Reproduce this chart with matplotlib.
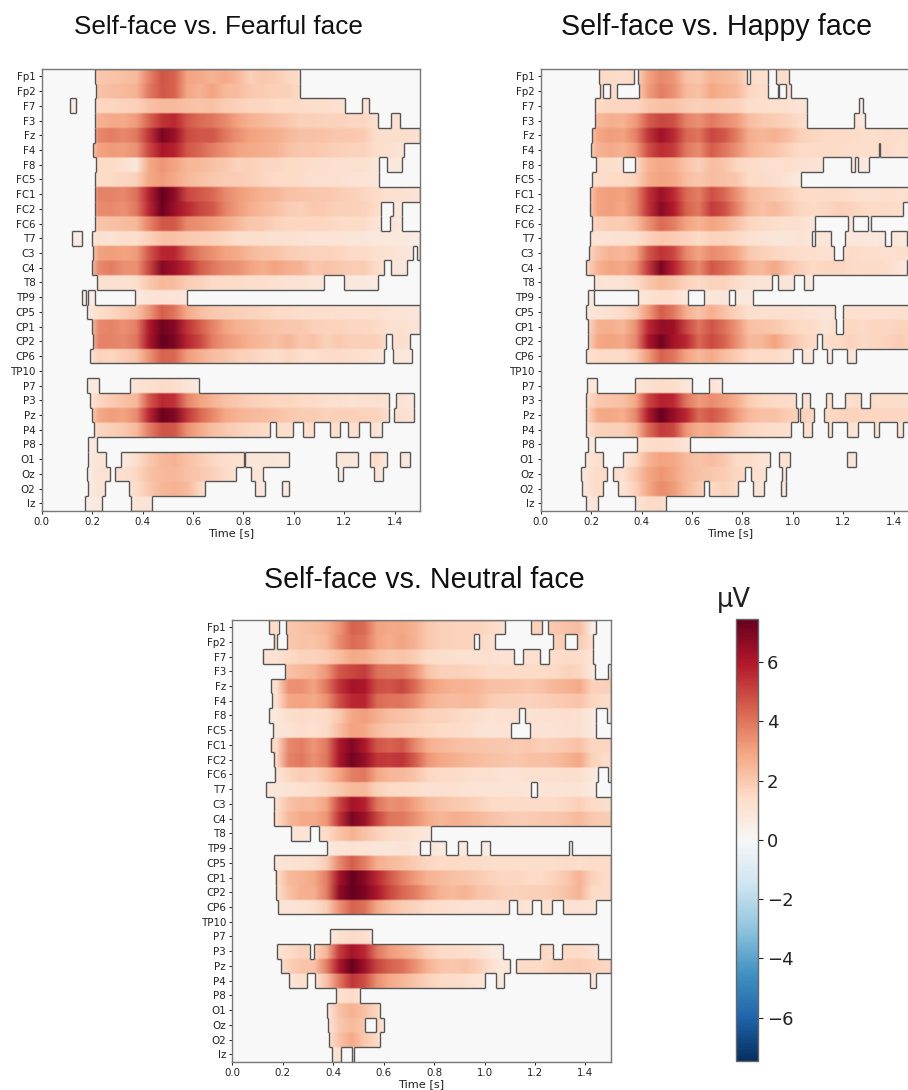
import numpy as np
import matplotlib
matplotlib.use("Agg")
import matplotlib.pyplot as plt
from matplotlib.collections import LineCollection

# Figure size in pixels (dpi 100)
W, H = 908, 1090

channels = ["Fp1", "Fp2", "F7", "F3", "Fz", "F4", "F8", "FC5", "FC1", "FC2", "FC6", "T7", "C3", "C4", "T8",
            "TP9", "CP5", "CP1", "CP2", "CP6", "TP10", "P7", "P3", "Pz", "P4", "P8", "O1", "Oz", "O2", "Iz"]
time_ticks = [0.0, 0.2, 0.4, 0.6, 0.8, 1.0, 1.2, 1.4]
cbar_ticks = [-6, -4, -2, 0, 2, 4, 6]
vlim = 7.45

# Amplitudes in uV, one column every 0.05 s, from 0.15 s to 1.5 s
fearful_values = [
    [.8, 2.0, 2.1, 2.2, 2.4, 3.7, 4.7, 4.4, 3.0, 2.8, 2.6, 2.8, 2.4, 1.8, 2.0, 1.9, 1.6, 1.3, 1.0, 1.0, .8, .8, .7, .7, .6, .5, .4],
    [.8, 2.1, 2.3, 2.4, 2.6, 3.9, 4.6, 4.4, 2.9, 2.6, 3.0, 2.4, 2.3, 2.0, 1.9, 1.8, 1.8, 1.4, 1.0, 1.0, .8, .8, .7, .7, .6, .5, .4],
    [.6, 1.6, 1.6, 1.7, 1.8, 2.2, 2.4, 2.4, 2.2, 2.1, 2.2, 1.9, 1.8, 1.6, 1.6, 1.5, 1.5, 1.4, 1.3, 1.3, 1.2, 1.2, 1.0, .8, .7, .6, .5],
    [.8, 2.6, 2.8, 2.8, 3.2, 4.4, 5.4, 5.6, 4.6, 4.2, 4.0, 3.6, 3.0, 2.6, 2.4, 2.2, 2.0, 1.8, 1.8, 1.7, 1.7, 1.6, 1.6, 1.2, 1.0, 1.2, .8],
    [.9, 3.6, 3.8, 3.6, 3.9, 5.4, 7.0, 6.4, 4.9, 4.6, 4.6, 3.9, 3.4, 3.0, 2.8, 2.7, 2.4, 2.2, 2.2, 2.1, 2.0, 2.0, 1.9, 1.3, 1.3, 1.3, 1.2],
    [.8, 3.0, 3.2, 3.1, 3.4, 5.0, 6.0, 5.8, 4.6, 4.3, 3.8, 3.4, 3.0, 2.8, 2.7, 2.6, 2.2, 2.0, 2.0, 1.9, 1.8, 1.7, 1.7, 1.3, 1.2, 1.1, .6],
    [.6, 1.5, 1.5, 1.2, .9, 2.9, 3.3, 3.0, 2.5, 2.4, 2.2, 2.0, 1.7, 1.8, 1.6, 1.6, 1.5, 1.4, 1.3, 1.3, 1.2, 1.2, 1.2, .9, .8, .8, .5],
    [.6, 1.4, 1.5, 1.6, 1.8, 2.9, 3.2, 2.9, 2.4, 2.2, 2.0, 1.9, 1.9, 1.8, 1.6, 1.5, 1.5, 1.4, 1.2, 1.2, 1.2, 1.1, 1.1, .9, .7, .6, .5],
    [.9, 3.7, 3.7, 3.6, 4.1, 5.8, 7.4, 6.6, 5.0, 4.6, 4.3, 3.6, 3.2, 2.9, 2.6, 2.5, 2.2, 2.1, 2.0, 2.0, 1.9, 1.8, 1.6, 1.4, 1.2, 1.2, 1.1],
    [.9, 3.5, 3.6, 3.4, 3.9, 5.7, 7.3, 6.4, 5.6, 5.0, 4.6, 3.7, 3.2, 2.7, 2.4, 2.2, 1.9, 1.8, 2.0, 1.9, 1.8, 1.8, 1.7, 1.4, 1.0, .8, .7],
    [.7, 2.1, 2.2, 2.3, 2.5, 3.7, 4.6, 4.6, 3.6, 3.4, 3.2, 2.8, 2.4, 2.0, 2.0, 1.7, 1.6, 1.6, 1.6, 1.6, 1.5, 1.5, 1.4, 1.0, 1.0, .8, .6],
    [.6, 1.2, 1.1, 1.3, 1.3, 1.8, 2.2, 2.2, 2.0, 1.9, 1.8, 1.6, 1.3, 1.3, 1.3, 1.2, 1.2, 1.1, 1.0, 1.0, 1.0, .9, .9, .8, .8, .7, .6],
    [.7, 3.0, 3.1, 3.0, 3.2, 4.6, 5.7, 5.7, 4.5, 3.8, 3.4, 3.0, 2.8, 2.4, 2.2, 2.1, 1.9, 1.8, 1.7, 1.7, 1.6, 1.5, 1.5, 1.2, 1.1, 1.0, .8],
    [.7, 3.6, 3.8, 3.4, 3.4, 5.0, 6.8, 6.3, 5.6, 4.5, 4.0, 3.6, 3.4, 3.0, 2.7, 3.0, 2.7, 2.6, 2.0, 2.2, 2.0, 1.9, 1.9, 1.4, .9, .9, .8],
    [.6, 1.2, 1.2, 1.2, 1.3, 2.0, 2.4, 2.3, 1.9, 1.7, 1.5, 1.5, 1.4, 1.3, 1.3, 1.2, 1.1, 1.1, .9, .9, .8, .8, .8, .6, .5, .5, .4],
    [.6, .5, .5, .5, .8, 1.0, 1.1, 1.0, .9, .6, .5, .5, .5, .5, .4, .4, .4, .4, .4, .4, .4, .4, .4, .4, .4, .4, .4],
    [.6, 1.3, 1.6, 1.9, 2.2, 3.3, 4.5, 4.0, 2.8, 2.3, 2.0, 1.9, 1.8, 1.7, 1.6, 1.5, 1.4, 1.3, 1.3, 1.3, 1.2, 1.2, 1.2, 1.2, 1.0, 1.0, .9],
    [.8, 3.6, 3.7, 3.4, 3.8, 6.0, 7.2, 6.8, 5.4, 4.5, 3.7, 3.0, 2.6, 2.5, 2.2, 2.1, 2.0, 2.0, 1.8, 1.7, 1.7, 1.6, 1.6, 1.5, 1.2, 1.2, 1.0],
    [.8, 3.7, 3.7, 3.6, 4.0, 6.1, 7.4, 7.0, 5.7, 5.0, 3.8, 3.3, 3.0, 2.6, 2.4, 2.2, 2.5, 2.0, 2.2, 1.7, 2.0, 1.8, 1.8, 1.8, 1.2, 1.3, 1.0],
    [.6, 1.7, 1.6, 1.9, 2.2, 3.4, 4.4, 4.3, 3.2, 2.7, 2.3, 2.1, 1.8, 1.7, 1.5, 1.3, 1.6, 1.3, 1.2, 1.4, 1.4, 1.3, 1.2, 1.1, .8, .9, .7],
    [.3, .3, .3, .3, .3, .3, .3, .3, .3, .3, .3, .3, .3, .3, .3, .3, .3, .3, .3, .3, .3, .3, .3, .3, .3, .3, .3],
    [.6, .8, .7, .7, 1.1, 1.2, 1.4, 1.3, 1.0, .6, .5, .5, .4, .4, .4, .4, .4, .4, .4, .4, .4, .4, .4, .4, .4, .4, .4],
    [.6, 1.6, 1.9, 2.2, 2.5, 4.6, 5.6, 5.4, 3.7, 3.0, 2.6, 2.2, 2.0, 1.8, 1.7, 1.6, 1.6, 1.5, 1.4, 1.2, 1.2, 1.1, 1.2, 1.2, 1.1, 1.1, .8],
    [.7, 2.8, 3.1, 3.0, 3.5, 5.7, 7.3, 6.9, 5.3, 4.3, 3.6, 2.9, 2.6, 2.4, 2.3, 2.2, 2.0, 1.9, 1.9, 1.7, 1.8, 1.8, 1.7, 1.7, 1.3, 1.2, 1.0],
    [.6, 1.6, 1.8, 2.0, 2.4, 3.8, 4.7, 4.6, 3.4, 2.8, 2.3, 2.0, 1.8, 1.6, 1.5, 1.3, 1.3, 1.2, 1.3, 1.2, 1.3, 1.2, 1.3, 1.1, .8, .6, .5],
    [.5, .9, .6, .6, .6, .6, .6, .6, .5, .5, .5, .5, .4, .4, .4, .4, .4, .4, .4, .4, .4, .4, .4, .4, .4, .4, .4],
    [.5, 1.0, 1.0, .8, 1.3, 2.0, 2.4, 2.6, 2.2, 1.9, 1.6, 1.3, 1.2, .9, .9, .9, .8, .6, .6, .6, .9, .9, .8, 1.5, .6, .9, .5],
    [.5, 1.1, 1.2, 1.2, 1.6, 2.2, 2.4, 2.5, 2.2, 2.0, 1.8, 1.4, 1.0, 1.0, .9, .5, .4, .4, .4, .4, .6, .4, .4, 1.0, .4, .4, .4],
    [.5, 1.0, 1.0, .7, 1.4, 2.0, 2.5, 2.6, 2.4, 1.6, 1.0, .8, .7, .8, .8, .6, .7, .4, .4, .4, .4, .4, .4, .4, .4, .4, .4],
    [.5, .8, .7, .5, 1.0, 1.1, .8, .5, .4, .4, .4, .4, .4, .4, .4, .4, .4, .4, .4, .4, .4, .4, .4, .4, .4, .4, .4],
]
happy_values = [
    [.8, 1.5, 1.5, 1.3, 1.6, 3.0, 3.6, 3.3, 2.2, 2.0, 2.6, 2.4, 2.2, 1.4, 1.2, 1.4, 1.3, .9, .6, .5, .5, .5, .5, .5, .5, .5, .5],
    [.8, 1.5, 1.5, 1.3, 1.7, 3.1, 3.8, 3.4, 2.4, 2.2, 2.9, 2.6, 2.4, 1.6, 1.4, 1.4, 1.3, .9, .6, .5, .5, .5, .5, .5, .5, .5, .5],
    [1.0, 1.5, 1.6, 1.6, 1.6, 2.0, 2.2, 2.2, 1.9, 1.8, 1.9, 1.8, 1.7, 1.3, 1.3, 1.2, 1.2, 1.1, 1.0, .8, .7, .7, .6, .5, .5, .5, .5],
    [1.2, 2.4, 2.7, 2.6, 3.2, 4.5, 5.0, 4.8, 3.7, 3.4, 3.9, 3.5, 3.2, 2.3, 2.0, 1.9, 1.7, 1.4, 1.0, .8, .8, 1.1, .8, .6, .5, .5, .5],
    [1.4, 2.9, 3.1, 3.0, 3.7, 5.3, 6.3, 5.6, 4.3, 4.0, 5.0, 4.6, 3.8, 2.7, 2.5, 2.6, 2.3, 1.8, 1.6, 1.5, 1.5, 1.4, 1.3, 1.3, 1.4, 1.3, 1.3],
    [1.4, 2.6, 2.8, 2.6, 3.2, 4.8, 5.5, 5.2, 3.9, 3.5, 4.5, 4.0, 3.4, 2.6, 2.3, 2.1, 1.8, 1.5, 1.5, 1.4, 1.5, 1.3, 1.3, 1.3, 1.4, 1.2, 1.2],
    [1.0, 1.3, 1.3, 1.1, 1.5, 2.6, 2.9, 2.7, 2.1, 1.8, 2.3, 2.1, 1.6, 1.4, 1.3, 1.2, 1.3, 1.2, 1.1, 1.0, .9, .9, .8, .6, .5, .5, .5],
    [1.0, 1.3, 1.5, 1.5, 1.7, 2.7, 3.0, 2.9, 2.3, 2.0, 2.3, 2.2, 2.0, 1.5, 1.4, 1.3, 1.0, .8, .6, .5, .5, .5, .5, .5, .5, .5, .5],
    [1.4, 3.0, 3.1, 3.0, 3.6, 5.4, 6.4, 5.6, 4.2, 3.8, 4.8, 4.3, 3.4, 2.4, 2.2, 2.0, 1.8, 1.5, 1.5, 1.4, 1.4, 1.3, 1.2, 1.2, 1.3, 1.2, 1.2],
    [1.4, 3.0, 3.1, 2.9, 3.6, 5.4, 6.7, 5.9, 4.4, 3.9, 5.2, 4.8, 3.7, 2.6, 2.2, 2.4, 2.0, 1.6, 1.5, 1.6, 1.8, 1.7, 1.5, 1.5, 1.5, 1.3, 1.2],
    [1.0, 1.8, 1.9, 1.9, 2.3, 3.4, 4.2, 3.8, 3.0, 2.6, 3.0, 2.7, 2.2, 1.6, 1.5, 1.3, 1.2, 1.2, .9, 1.0, .9, .9, .9, .8, .6, .5, .5],
    [1.0, 1.1, 1.1, 1.2, 1.2, 1.7, 2.0, 1.9, 1.7, 1.5, 1.7, 1.7, 1.5, 1.2, 1.1, .9, .9, 1.1, .9, .9, .9, .8, .9, .8, .9, .8, .8],
    [1.2, 2.2, 2.6, 2.4, 2.9, 4.6, 5.4, 5.0, 3.6, 3.0, 3.5, 3.3, 2.9, 2.0, 1.8, 1.6, 1.5, 1.3, 1.3, 1.2, 1.2, 1.4, 1.3, 1.3, 1.2, 1.3, 1.2],
    [1.4, 2.6, 3.0, 2.8, 3.4, 5.2, 7.0, 5.8, 4.4, 3.6, 4.6, 4.2, 3.6, 2.6, 2.4, 2.9, 2.2, 1.8, 1.5, 1.6, 1.6, 1.5, 1.4, 1.5, 1.3, .9, .8],
    [.9, 1.1, 1.0, 1.1, 1.4, 2.0, 2.4, 2.2, 1.7, 1.5, 1.7, 1.7, 1.4, 1.1, 1.0, 1.0, .9, .9, .6, .5, .5, .5, .5, .5, .5, .5, .5],
    [.8, .6, .5, .5, .8, 1.1, 1.3, 1.2, .8, .7, .9, .9, .7, .9, .5, .4, .4, .4, .4, .4, .4, .4, .4, .4, .4, .4, .4],
    [.9, 1.0, 1.2, 1.4, 1.9, 3.2, 4.5, 3.9, 2.7, 2.1, 2.7, 2.2, 1.7, 1.2, 1.2, 1.2, 1.2, 1.2, 1.0, .9, 1.1, 1.2, 1.2, 1.2, 1.2, 1.2, 1.2],
    [1.2, 2.6, 2.7, 2.5, 3.4, 5.6, 6.5, 6.4, 5.0, 4.0, 4.7, 4.1, 3.3, 2.2, 2.1, 2.0, 1.7, 1.5, 1.4, 1.0, 1.3, 1.6, 1.5, 1.6, 1.6, 1.7, 1.6],
    [1.2, 2.9, 3.0, 2.8, 3.6, 6.0, 7.2, 6.2, 5.6, 4.3, 4.9, 4.4, 3.4, 2.4, 2.5, 3.0, 2.3, 1.8, 1.5, 1.3, 1.5, 1.7, 1.5, 1.6, 1.7, 1.9, 1.6],
    [1.0, 1.5, 1.5, 1.4, 1.9, 3.2, 4.4, 4.0, 3.0, 2.5, 2.8, 2.3, 1.9, 1.5, 1.5, 1.4, 1.2, 1.0, .9, .9, .6, 1.0, .5, .5, .5, .5, .5],
    [.3, .3, .3, .3, .3, .3, .3, .3, .3, .3, .3, .3, .3, .3, .3, .3, .3, .3, .3, .3, .3, .3, .3, .3, .3, .3, .3],
    [.8, .9, .5, .5, 1.0, 1.2, 1.4, 1.3, .9, .6, 1.0, .8, .4, .4, .4, .4, .4, .4, .4, .4, .4, .4, .4, .4, .4, .4, .4],
    [1.2, 2.0, 2.1, 2.2, 2.9, 5.0, 5.8, 5.6, 4.0, 3.2, 3.5, 3.2, 2.7, 1.9, 1.6, 1.5, 1.4, 1.2, 1.1, 1.2, 1.0, 1.3, 1.4, 1.3, 1.3, 1.3, 1.3],
    [1.2, 2.8, 2.9, 2.7, 3.6, 5.9, 7.4, 6.5, 5.6, 4.2, 4.6, 4.1, 3.2, 2.4, 2.2, 2.2, 1.9, 1.7, 1.6, 1.5, 1.6, 1.7, 1.6, 1.6, 1.6, 1.6, 1.5],
    [1.0, 1.7, 1.8, 1.8, 2.4, 4.2, 5.2, 5.0, 3.3, 2.7, 2.9, 2.5, 1.9, 1.6, 1.4, 1.3, 1.3, 1.2, 1.2, 1.3, .8, 1.2, .8, 1.1, .8, 1.0, .8],
    [.8, .8, .5, .5, 1.1, 1.3, 1.5, 1.3, 1.0, .5, .4, .4, .4, .4, .4, .4, .4, .4, .4, .4, .4, .4, .4, .4, .4, .4, .4],
    [.9, 1.3, 1.2, .7, 1.5, 2.6, 3.0, 2.9, 2.4, 2.1, 2.3, 2.0, 1.5, 1.4, 1.1, 1.0, 1.2, .4, .4, .4, .4, 1.0, .4, .4, .4, .4, .4],
    [.9, 1.5, 1.4, 1.2, 2.0, 2.9, 3.3, 3.0, 2.4, 2.2, 2.0, 1.9, 1.6, 1.3, 1.2, .9, .8, .4, .4, .4, .4, .4, .4, .4, .4, .4, .4],
    [.9, 1.5, 1.4, 1.0, 1.8, 2.9, 3.5, 3.2, 2.4, 1.9, 1.5, 1.7, 1.4, 1.2, 1.0, .8, .8, .4, .4, .4, .4, .4, .4, .4, .4, .4, .4],
    [.7, 1.1, .7, .5, 1.0, 1.4, 1.4, .9, .5, .4, .4, .4, .4, .4, .4, .4, .4, .4, .4, .4, .4, .4, .4, .4, .4, .4, .4],
]
neutral_values = [
    [1.4, 2.0, 2.2, 2.3, 2.6, 3.3, 4.4, 4.2, 3.0, 2.8, 2.9, 2.6, 2.0, 1.8, 1.7, 1.7, 1.7, 1.5, 1.2, 1.5, 1.6, 1.8, 2.0, 2.2, 2.3, .6, .5],
    [1.2, 2.0, 2.2, 2.1, 2.5, 3.5, 4.2, 4.0, 3.0, 2.7, 3.0, 2.6, 2.0, 1.8, 1.7, 1.7, 1.6, 1.2, 1.2, 1.2, 1.3, 1.4, 1.8, 1.9, 1.9, 1.3, .5],
    [1.1, 1.5, 1.7, 1.7, 1.9, 2.3, 2.8, 2.7, 2.3, 2.0, 2.1, 1.9, 1.4, 1.3, 1.3, 1.2, 1.2, 1.2, 1.1, 1.1, 1.2, 1.2, 1.3, 1.4, 1.4, 1.0, .5],
    [.8, 2.2, 2.4, 2.6, 3.3, 4.6, 5.0, 5.2, 4.1, 3.9, 3.9, 3.3, 2.1, 1.8, 1.8, 1.7, 1.6, 1.4, 1.4, 1.4, 1.5, 1.5, 1.5, 1.7, 1.6, .8, .6],
    [1.2, 3.4, 3.4, 3.0, 4.0, 5.4, 6.2, 6.0, 4.8, 4.7, 5.0, 4.2, 3.2, 2.8, 2.6, 2.6, 2.5, 2.2, 2.2, 2.1, 2.0, 2.2, 2.5, 2.6, 2.8, 1.7, 1.8],
    [1.2, 2.9, 3.0, 2.8, 3.4, 4.8, 5.6, 5.7, 4.2, 4.0, 4.0, 3.5, 2.7, 2.4, 2.3, 2.4, 2.3, 1.9, 1.8, 1.8, 1.7, 1.8, 1.9, 2.0, 2.1, 1.6, 1.4],
    [.8, 1.3, 1.4, 1.3, 1.4, 2.0, 2.9, 3.1, 2.7, 2.3, 2.2, 2.0, 1.7, 1.7, 1.6, 1.4, 1.3, 1.1, 1.2, 1.2, 1.1, 1.2, 1.2, 1.3, 1.2, .7, .5],
    [.9, 1.1, 1.3, 1.2, 1.5, 2.3, 3.0, 2.9, 2.3, 2.0, 1.9, 1.8, 1.6, 1.5, 1.4, 1.3, 1.1, 1.0, 1.0, 1.0, 1.1, 1.1, 1.1, 1.2, 1.2, .8, .5],
    [1.4, 3.6, 3.8, 3.3, 3.9, 6.0, 6.9, 6.0, 4.6, 4.4, 4.6, 3.6, 2.7, 2.5, 2.3, 2.2, 2.1, 2.0, 2.0, 1.9, 2.0, 1.8, 1.9, 2.0, 2.2, 1.6, 1.6],
    [1.4, 3.7, 3.9, 3.4, 4.0, 6.1, 7.2, 6.5, 5.3, 5.2, 5.4, 4.5, 3.3, 2.9, 2.7, 2.5, 2.3, 2.2, 2.1, 2.0, 2.2, 2.2, 2.3, 2.6, 2.9, 1.7, 1.4],
    [1.0, 1.6, 1.9, 1.7, 2.2, 3.0, 3.8, 3.9, 2.9, 2.5, 2.4, 2.1, 1.6, 1.5, 1.4, 1.3, 1.2, 1.2, 1.1, 1.1, 1.2, 1.2, 1.2, 1.3, 1.3, .8, .6],
    [.9, 1.0, 1.2, 1.3, 1.6, 2.0, 2.4, 2.4, 1.7, 1.5, 1.4, 1.3, 1.2, 1.2, 1.2, 1.1, 1.0, 1.0, 1.0, 1.0, .9, 1.0, 1.0, 1.0, 1.0, .7, .5],
    [1.2, 2.2, 2.4, 2.4, 3.0, 5.0, 6.2, 5.8, 4.0, 3.4, 3.5, 3.0, 2.4, 2.2, 2.0, 1.9, 1.7, 1.5, 1.5, 1.4, 1.4, 1.4, 1.4, 1.6, 1.8, 1.5, 1.3],
    [1.3, 2.4, 2.8, 2.8, 3.3, 5.4, 7.0, 6.4, 5.0, 4.0, 3.9, 3.4, 2.8, 2.5, 2.7, 2.6, 2.4, 2.2, 2.0, 1.9, 1.9, 2.0, 2.0, 2.2, 2.4, 2.0, 1.9],
    [.7, 1.0, 1.0, 1.1, 1.5, 2.1, 2.6, 2.2, 1.8, 1.5, 1.3, 1.1, .8, .5, .5, .5, .5, .5, .5, .5, .5, .5, .5, .5, .5, .5, .5],
    [.6, .6, .5, .5, .8, 1.0, 1.1, 1.0, .9, .9, 1.0, .9, .8, .7, .7, .7, .7, .5, .5, .5, .5, .5, .5, .5, .5, .5, .5],
    [1.0, 1.1, 1.2, 1.3, 1.9, 3.6, 4.5, 3.8, 2.7, 2.4, 2.2, 1.9, 1.6, 1.5, 1.5, 1.5, 1.4, 1.3, 1.3, 1.3, 1.3, 1.3, 1.3, 1.4, 1.3, 1.4, 1.4],
    [1.2, 2.4, 2.6, 2.9, 3.8, 6.2, 7.4, 6.8, 5.6, 4.6, 3.8, 3.2, 2.6, 2.4, 2.2, 2.1, 1.9, 1.7, 1.6, 1.6, 1.5, 1.5, 1.7, 2.0, 2.6, 1.7, 1.5],
    [1.2, 2.2, 2.7, 2.7, 3.8, 6.6, 7.4, 7.0, 6.0, 5.0, 4.3, 3.8, 3.2, 2.6, 2.4, 2.6, 2.1, 2.0, 1.8, 1.7, 1.8, 1.8, 1.9, 2.2, 2.6, 1.5, 1.4],
    [1.0, 1.0, 1.1, 1.3, 1.9, 3.4, 4.4, 4.1, 2.9, 2.3, 1.9, 1.7, 1.4, 1.3, 1.2, 1.1, 1.1, 1.1, 1.2, 1.1, 1.0, 1.0, 1.0, 1.1, 1.1, 1.0, .5],
    [.3, .3, .3, .3, .3, .3, .3, .3, .3, .3, .3, .3, .3, .3, .3, .3, .3, .3, .3, .3, .3, .3, .3, .3, .3, .3, .3],
    [.5, .5, .5, .5, .7, 1.2, 1.4, 1.3, .7, .5, .4, .4, .4, .4, .4, .4, .4, .4, .4, .4, .4, .4, .4, .4, .4, .4, .4],
    [1.0, 1.4, 1.7, 1.6, 2.6, 5.2, 6.2, 5.6, 3.9, 3.2, 2.8, 2.4, 1.8, 1.5, 1.4, 1.3, 1.2, .7, .7, .7, .7, 1.6, 1.3, 1.5, 1.5, 1.2, .5],
    [1.0, 1.8, 2.1, 2.1, 3.8, 6.0, 7.4, 6.3, 5.0, 4.4, 4.1, 3.4, 2.6, 2.1, 2.0, 2.2, 1.8, 1.2, .7, 1.4, 1.5, 1.5, 1.7, 1.8, 1.9, 1.7, 1.6],
    [.7, .9, 1.3, .9, 2.2, 4.0, 5.3, 4.8, 3.4, 2.8, 2.5, 2.1, 1.7, 1.5, 1.4, 1.3, 1.0, 1.0, .7, .7, .7, .7, .7, .7, .7, .9, .5],
    [.4, .4, .4, .4, .5, 1.2, 1.4, .9, .4, .4, .4, .4, .4, .4, .4, .4, .4, .4, .4, .4, .4, .4, .4, .4, .4, .4, .4],
    [.4, .4, .4, .4, .8, 2.2, 2.6, 2.2, 1.6, .4, .4, .4, .4, .4, .4, .4, .4, .4, .4, .4, .4, .4, .4, .4, .4, .4, .4],
    [.4, .4, .4, .4, .8, 2.0, 2.4, 2.0, 1.6, .4, .4, .4, .4, .4, .4, .4, .4, .4, .4, .4, .4, .4, .4, .4, .4, .4, .4],
    [.4, .4, .4, .4, .8, 2.2, 2.8, 2.0, 1.5, .4, .4, .4, .4, .4, .4, .4, .4, .4, .4, .4, .4, .4, .4, .4, .4, .4, .4],
    [.4, .4, .4, .4, .8, 1.2, 1.0, .6, .4, .4, .4, .4, .4, .4, .4, .4, .4, .4, .4, .4, .4, .4, .4, .4, .4, .4, .4],
]

# Significant time windows per channel, in seconds
fearful_mask = [
    [(.21, 1.025)], [(.214, 1.025)], [(.114, .136), (.21, 1.204), (1.271, 1.299)],
    [(.21, 1.332), (1.385, 1.42)], [(.213, 1.5)], [(.205, 1.438)],
    [(.214, 1.337), (1.368, 1.43)], [(.21, 1.337)], [(.21, 1.5)],
    [(.21, 1.345), (1.393, 1.427)], [(.21, 1.345), (1.38, 1.427)], [(.122, .16), (.2, 1.5)],
    [(.205, 1.472), (1.488, 1.5)], [(.2, 1.356), (1.385, 1.448)], [(.218, 1.118), (1.2, 1.332)],
    [(.159, .176), (.185, .212), (.369, .578)], [(.181, 1.5)], [(.2, 1.5)],
    [(.202, 1.365), (1.389, 1.459)], [(.19, 1.356), (1.392, 1.468)], [],
    [(.18, .226), (.352, .623)], [(.19, 1.377), (1.405, 1.476)], [(.2, 1.376), (1.396, 1.476)],
    [(.206, .907), (.931, .996), (1.037, 1.081), (1.142, 1.181), (1.213, 1.26), (1.3, 1.348)],
    [(.184, .221)],
    [(.185, .254), (.315, .802), (.808, .98), (1.167, 1.254), (1.3, 1.368), (1.422, 1.46)],
    [(.179, .272), (.292, .771), (.828, .877), (1.173, 1.193), (1.317, 1.352)],
    [(.185, .25), (.345, .647), (.845, .885), (.954, .981)],
    [(.173, .241), (.354, .438)],
]
happy_mask = [
    [(.231, .368), (.385, .819), (.829, .9), (.933, .985)],
    [(.234, .247), (.276, .303), (.39, .9), (.94, .945), (.971, .992)],
    [(.216, 1.057), (1.263, 1.276)], [(.216, 1.057), (1.243, 1.287)], [(.205, 1.5)],
    [(.198, 1.342), (1.345, 1.5)],
    [(.218, .327), (.374, 1.119), (1.23, 1.247), (1.259, 1.3)],
    [(.205, 1.034)], [(.197, 1.5)], [(.197, 1.438)],
    [(.205, 1.086), (1.22, 1.237), (1.296, 1.308)],
    [(.194, 1.074), (1.089, 1.15), (1.208, 1.365), (1.39, 1.451)],
    [(.192, 1.161), (1.2, 1.5)], [(.179, 1.454)],
    [(.21, .919), (.94, 1.004), (1.044, 1.081)],
    [(.188, .212), (.384, .585), (.647, .745), (.769, .84)],
    [(.181, 1.168), (1.2, 1.5)], [(.188, 1.171), (1.197, 1.5)], [(.188, 1.097), (1.115, 1.5)],
    [(.179, .999), (1.037, 1.078), (1.136, 1.155), (1.216, 1.25)], [],
    [(.184, .222), (.373, .599), (.667, .718)],
    [(.179, 1.012), (1.038, 1.069), (1.13, 1.155), (1.205, 1.272), (1.304, 1.5)],
    [(.179, 1.021), (1.03, 1.082), (1.124, 1.5)],
    [(.179, .993), (1.042, 1.074), (1.139, 1.157), (1.216, 1.259), (1.323, 1.341), (1.413, 1.437)],
    [(.188, .216), (.38, .591)],
    [(.176, .247), (.328, .911), (.946, .989), (1.214, 1.249)],
    [(.16, .263), (.287, .812), (.832, .893), (.955, .974)],
    [(.165, .247), (.306, .646), (.667, .783), (.84, .886), (.951, .971)],
    [(.179, .229), (.373, .495)],
]
neutral_mask = [
    [(.147, .184), (.212, 1.082), (1.184, 1.228), (1.251, 1.443)],
    [(.164, .179), (.216, .96), (.978, 1.042), (1.271, 1.32), (1.365, 1.429)],
    [(.12, 1.115), (1.152, 1.221), (1.255, 1.429)],
    [(.21, 1.438), (1.491, 1.5)], [(.155, 1.5)], [(.159, 1.5)],
    [(.147, 1.135), (1.159, 1.443), (1.485, 1.5)],
    [(.161, 1.105), (1.179, 1.443)], [(.152, 1.5)], [(.164, 1.5)],
    [(.168, 1.448), (1.49, 1.5)], [(.134, 1.184), (1.206, 1.443)],
    [(.165, 1.5)], [(.164, 1.5)], [(.233, .308), (.344, .787)],
    [(.376, .745), (.782, .848), (.893, .931), (.985, 1.021), (1.333, 1.348)],
    [(.165, 1.5)], [(.172, 1.5)], [(.173, 1.5)],
    [(.181, 1.097), (1.128, 1.189), (1.224, 1.266), (1.31, 1.443)], [],
    [(.386, .554)],
    [(.179, .308), (.324, 1.073), (1.218, 1.271), (1.308, 1.45)],
    [(.192, 1.102), (1.126, 1.5)],
    [(.225, .296), (.328, 1.001), (1.044, 1.077), (1.418, 1.44)],
    [(.411, .505)], [(.377, .587)], [(.38, .525), (.57, .6)], [(.385, .587)],
    [(.397, .43), (.475, .482)],
]


def px_axes(left, top, right, bottom):
    # axes placed with pixel coordinates measured from the top left corner
    return fig.add_axes([left / W, 1 - bottom / H, (right - left) / W, (bottom - top) / H])


def outline_segments(mask):
    # step outline of a boolean mask (rows x 1 ms columns)
    n_rows, n_cols = mask.shape
    segs = []
    padded = np.zeros((n_rows + 2, n_cols + 2), dtype=bool)
    padded[1:-1, 1:-1] = mask
    for r in range(n_rows + 1):
        diff = padded[r, 1:-1] != padded[r + 1, 1:-1]
        edges = np.flatnonzero(np.diff(np.r_[0, diff.astype(int), 0]))
        for a, b in zip(edges[::2], edges[1::2]):
            segs.append([(a / 1000, r - 0.5), (b / 1000, r - 0.5)])
    for r in range(n_rows):
        for c in np.flatnonzero(padded[r + 1, 1:] != padded[r + 1, :-1]):
            segs.append([(c / 1000, r - 0.5), (c / 1000, r + 0.5)])
    return segs


def draw_panel(ax, values, windows):
    vals = np.array(values)
    # columns before 0.15 s are hidden or nearly so, first column is held there
    vals = np.hstack([np.repeat(vals[:, :1], 3, axis=1), vals])
    # rows repeated so that the smoothing only acts along time
    img = ax.imshow(np.repeat(vals, 8, axis=0), cmap="RdBu_r", vmin=-vlim, vmax=vlim, aspect="auto",
                    interpolation="bilinear", extent=[0, 1.5, 29.5, -0.5])
    mask = np.zeros((len(channels), 1500), dtype=bool)
    for r, row in enumerate(windows):
        for a, b in row:
            mask[r, int(round(a * 1000)):int(round(b * 1000))] = True
    cover = np.zeros(mask.shape + (4,))
    cover[..., :3] = 0.973
    cover[..., 3] = ~mask
    ax.imshow(cover, aspect="auto", interpolation="nearest", extent=[0, 1.5, 29.5, -0.5])
    ax.add_collection(LineCollection(outline_segments(mask), colors="#555555", linewidths=1.0))
    ax.set_xlim(0, 1.5)
    ax.set_ylim(29.5, -0.5)
    ax.set_xticks(time_ticks)
    ax.set_yticks(range(len(channels)))
    ax.set_yticklabels(channels)
    ax.tick_params(labelsize=7.4, length=2.5, width=0.7, pad=2, colors="#222222")
    ax.set_xlabel("Time [s]", fontsize=8.2, labelpad=0.8, color="#222222")
    for s in ax.spines.values():
        s.set_color("#777777")
        s.set_linewidth(1.0)
    return img


fig = plt.figure(figsize=(W / 100, H / 100), dpi=100)

ax1 = px_axes(41.7, 69, 420, 510.7)
ax2 = px_axes(540.7, 69, 919, 510.7)
ax3 = px_axes(232.3, 619.7, 610.7, 1061.7)
draw_panel(ax1, fearful_values, fearful_mask)
draw_panel(ax2, happy_values, happy_mask)
im = draw_panel(ax3, neutral_values, neutral_mask)

title_font = dict(family="Liberation Sans", ha="center", va="center", color="#111111")
fig.text(218 / W, 1 - 27 / H, "Self-face vs. Fearful face", fontsize=18.8, **title_font)
fig.text(717 / W, 1 - 27 / H, "Self-face vs. Happy face", fontsize=20.6, **title_font)
fig.text(424 / W, 1 - 580 / H, "Self-face vs. Neutral face", fontsize=20.6, **title_font)

cax = px_axes(735.7, 619, 758, 1060.7)
cbar = fig.colorbar(im, cax=cax)
cbar.set_ticks(cbar_ticks)
cbar.ax.tick_params(labelsize=13, length=3.5, width=0.8, pad=3, colors="#222222")
cbar.outline.set_edgecolor("#666666")
cbar.outline.set_linewidth(1.0)
fig.text(734 / W, 1 - 600 / H, "µV", fontsize=18.5, ha="center", va="center", color="#222222")

fig.savefig("out.png", dpi=100)
